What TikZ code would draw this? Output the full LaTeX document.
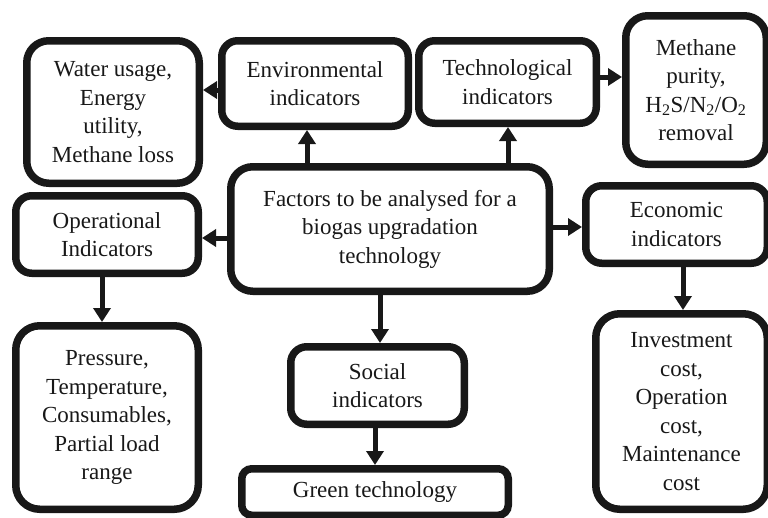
\documentclass[tikz,border=0pt]{standalone}
\usepackage{fontspec}
\setmainfont{Liberation Serif}
\usetikzlibrary{arrows.meta}
\definecolor{ink}{RGB}{24,24,24}
\begin{document}
\begin{tikzpicture}[x=1pt,y=-1pt,
  box/.style={draw=ink, line width=7.5pt, fill=white, rounded corners=#1,
    align=center, inner sep=0pt, text=ink,
    font=\fontsize{23}{28.5}\selectfont},
  box/.default=16pt,
  arr/.style={draw=ink, line width=5pt, -{Triangle[length=14pt,width=17pt]}}]
\path[use as bounding box] (0,0) rectangle (768,517);
\clip (0,0) rectangle (768,517);

% boxes
\node[box=22pt, minimum width=172.5pt, minimum height=142.5pt] (water) at (113,112)
  {Water usage,\\Energy\\utility,\\Methane loss};
\node[box, minimum width=186.5pt, minimum height=85.5pt] (env) at (315,83.5)
  {Environmental\\indicators};
\node[box, minimum width=177.5pt, minimum height=82.5pt] (tech) at (507.5,82)
  {Technological\\indicators};
\node[box=22pt, minimum width=140.5pt, minimum height=148.5pt] (methane) at (696,90)
  {Methane\\purity,\\H\textsubscript{2}S/N\textsubscript{2}/O\textsubscript{2}\\removal};
\node[box=22pt, minimum width=318.5pt, minimum height=124.5pt] (central) at (390,229)
  {Factors to be analysed for a\\biogas upgradation\\technology};
\node[box, minimum width=182.5pt, minimum height=77.5pt] (oper) at (107,234.5)
  {Operational\\Indicators};
\node[box, minimum width=181.5pt, minimum height=77.5pt] (econ) at (676.5,224.5)
  {Economic\\indicators};
\node[box=24pt, minimum width=182.5pt, minimum height=183.5pt] (press) at (107,417.5)
  {Pressure,\\Temperature,\\Consumables,\\Partial load\\range};
\node[box, minimum width=173.5pt, minimum height=77.5pt] (social) at (377.5,385.5)
  {Social\\indicators};
\node[box=10pt, minimum width=266.5pt, minimum height=46.5pt] (green) at (375,492)
  {Green technology};
\node[box=24pt, minimum width=171.5pt, minimum height=195.5pt] (invest) at (681.5,411.5)
  {Investment\\cost,\\Operation\\cost,\\Maintenance\\cost};

% axes of the connectors
\coordinate (hEnv) at (0,90);
\coordinate (hTech) at (0,77);
\coordinate (hOper) at (0,238);
\coordinate (hEcon) at (0,227);
\coordinate (vEnv) at (307,0);
\coordinate (vTech) at (508,0);
\coordinate (vOper) at (102,0);
\coordinate (vSoc) at (380,0);
\coordinate (vGreen) at (375,0);
\coordinate (vEcon) at (683,0);

% connectors
\draw[arr] (env.west |- hEnv) -- (water.east |- hEnv);
\draw[arr] (tech.east |- hTech) -- (methane.west |- hTech);
\draw[arr] (central.north -| vEnv) -- (env.south -| vEnv);
\draw[arr] (central.north -| vTech) -- (tech.south -| vTech);
\draw[arr] (central.west |- hOper) -- (oper.east |- hOper);
\draw[arr] (central.east |- hEcon) -- (econ.west |- hEcon);
\draw[arr] (oper.south -| vOper) -- (press.north -| vOper);
\draw[arr] (central.south -| vSoc) -- (social.north -| vSoc);
\draw[arr] (social.south -| vGreen) -- (green.north -| vGreen);
\draw[arr] (econ.south -| vEcon) -- (invest.north -| vEcon);
\end{tikzpicture}
\end{document}
